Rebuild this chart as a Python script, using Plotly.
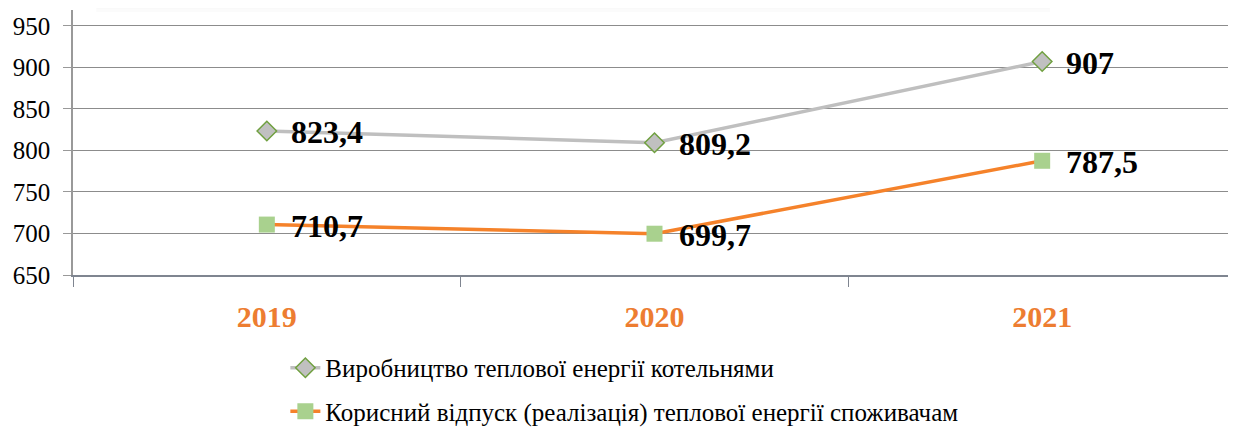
import plotly.graph_objects as go

years = ["2019", "2020", "2021"]
production = [823.4, 809.2, 907]
useful_supply = [710.7, 699.7, 787.5]
labels_production = ["823,4", "809,2", "907"]
labels_supply = ["710,7", "699,7", "787,5"]
name_production = "Виробництво теплової енергії котельнями"
name_supply = "Корисний відпуск (реалізація) теплової енергії споживачам"
y_ticks = [650, 700, 750, 800, 850, 900, 950]

FONT = "Liberation Serif, Times New Roman, serif"

fig = go.Figure()
fig.add_trace(go.Scatter(
    x=years, y=production, name=name_production, mode="lines+markers",
    line=dict(color="#bfbfbf", width=3.5),
    marker=dict(symbol="diamond", size=15, color="#c0c0c0",
                line=dict(color="#70a040", width=1.5)),
    legendgroup="a",
))
fig.add_trace(go.Scatter(
    x=years, y=useful_supply, name=name_supply, mode="lines+markers",
    line=dict(color="#f5822a", width=3.5),
    marker=dict(symbol="square", size=16, color="#a9d18e",
                line=dict(color="#a9d18e", width=0)),
    legendgroup="b",
))

for ys, labs in ((production, labels_production), (useful_supply, labels_supply)):
    for i, (yv, t) in enumerate(zip(ys, labs)):
        fig.add_annotation(x=i, y=yv, text="<b>" + t + "</b>", showarrow=False,
                           xref="x", yref="y",
                           xanchor="left", yanchor="middle", xshift=22, yshift=-1,
                           font=dict(family=FONT, size=32, color="black"))

# soft shadow at top (above the plot area)
PH = 265.0
for y0, op in [(0.0, 0.10), (3.0, 0.08), (6.0, 0.05), (9.0, 0.03)]:
    fig.add_shape(type="rect", xref="paper", yref="paper",
                  x0=0.02, x1=0.84, y0=1 + 10/PH - (y0 + 3)/PH, y1=1 + 10/PH - y0/PH,
                  fillcolor="#808080", opacity=op, line=dict(width=0), layer="below")

fig.update_layout(
    width=1228, height=422,
    margin=dict(l=65, r=0, t=2, b=155, autoexpand=False),
    paper_bgcolor="white", plot_bgcolor="white",
    font=dict(family=FONT, color="black"),
    showlegend=True,
    legend=dict(x=0.1826, y=-0.264, xanchor="left", yanchor="top",
                font=dict(family=FONT, size=25, color="black"),
                tracegroupgap=8, bgcolor="rgba(0,0,0,0)"),
    xaxis=dict(
        type="category", range=[-0.5, 2.5], automargin=False,
        showline=True, linecolor="#7f8590", linewidth=1.5,
        ticks="outside", tickson="boundaries", ticklen=10, tickcolor="#7f8590",
        ticklabelstandoff=14,
        showgrid=False,
        tickfont=dict(family=FONT, size=30, color="#ed7d31", weight="bold"),
    ),
    yaxis=dict(
        range=[650, 969], tickvals=y_ticks, automargin=False,
        showline=True, linecolor="#999999", linewidth=1.5,
        ticks="outside", ticklen=8, tickcolor="#999999",
        ticklabelstandoff=8,
        showgrid=True, gridcolor="#8c8c8c", gridwidth=1.3,
        zeroline=False,
        tickfont=dict(family=FONT, size=25, color="black"),
    ),
)

fig.write_html("out.html")
